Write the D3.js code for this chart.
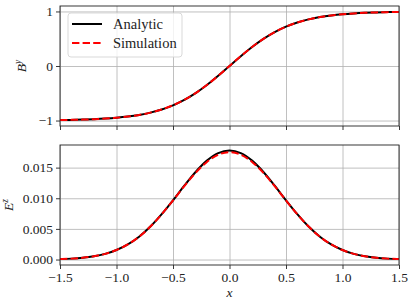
<!DOCTYPE html>
<html>
<head>
<meta charset="utf-8">
<script src="https://cdn.jsdelivr.net/npm/d3@7"></script>
<style>
  body { margin: 0; background: #fff; }
  svg { display: block; }
  svg text { font-family: "Liberation Serif", "DejaVu Serif", serif; }
</style>
</head>
<body>
<svg id="chart" width="415" height="307"></svg>
<script>
// sample positions along x
var xs = [-1.5, -1.4, -1.3, -1.2, -1.1, -1.0, -0.9, -0.8, -0.7, -0.6, -0.5, -0.4, -0.3, -0.2, -0.1,
          0.0, 0.1, 0.2, 0.3, 0.4, 0.5, 0.6, 0.7, 0.8, 0.9, 1.0, 1.1, 1.2, 1.3, 1.4, 1.5];

// B^y
var byAnalytic = [-0.9915, -0.9878, -0.9826, -0.9749, -0.9640, -0.9486, -0.9268, -0.8966, -0.8547, -0.7972, -0.7206, -0.6215, -0.4971, -0.3484, -0.1798,
                  0.0, 0.1798, 0.3484, 0.4971, 0.6215, 0.7206, 0.7972, 0.8547, 0.8966, 0.9268, 0.9486, 0.9640, 0.9749, 0.9826, 0.9878, 0.9915];
var bySim = [-0.9912, -0.9876, -0.9824, -0.9747, -0.9638, -0.9484, -0.9266, -0.8964, -0.8545, -0.7970, -0.7204, -0.6213, -0.4970, -0.3483, -0.1797,
             0.0, 0.1797, 0.3483, 0.4970, 0.6213, 0.7204, 0.7970, 0.8545, 0.8964, 0.9266, 0.9484, 0.9638, 0.9747, 0.9824, 0.9876, 0.9912];

// E^z
var ezAnalytic = [0.00007, 0.00015, 0.00029, 0.00053, 0.00093, 0.00155, 0.00247, 0.00373, 0.00538, 0.00740, 0.00967, 0.01205, 0.01429, 0.01614, 0.01737,
                  0.01780, 0.01737, 0.01614, 0.01429, 0.01205, 0.00967, 0.00740, 0.00538, 0.00373, 0.00247, 0.00155, 0.00093, 0.00053, 0.00029, 0.00015, 0.00007];
var ezSim = [0.00007, 0.00015, 0.00029, 0.00053, 0.00093, 0.00155, 0.00247, 0.00373, 0.00538, 0.00740, 0.00965, 0.01198, 0.01415, 0.01592, 0.01710,
             0.01752, 0.01710, 0.01592, 0.01415, 0.01198, 0.00965, 0.00740, 0.00538, 0.00373, 0.00247, 0.00155, 0.00093, 0.00053, 0.00029, 0.00015, 0.00007];

var xTicks = [-1.5, -1.0, -0.5, 0.0, 0.5, 1.0, 1.5];
var byTicks = [-1, 0, 1];
var ezTicks = [0.000, 0.005, 0.010, 0.015];
var legendNames = ["Analytic", "Simulation"];

var svg = d3.select("#chart");
var left = 60, right = 399;
var fontSize = 13.5;

var x = d3.scaleLinear().domain([-1.5, 1.5]).range([left, right]);

function panel(top, bottom, yDomain, yTicks, yFmt, series, labelX, labelMain, labelSup) {
  var y = d3.scaleLinear().domain(yDomain).range([bottom, top]);
  var g = svg.append("g");

  // grid
  g.append("g").attr("transform", "translate(0," + bottom + ")")
    .call(d3.axisBottom(x).tickValues(xTicks).tickSize(-(bottom - top)).tickFormat(""))
    .call(function(s) { s.select(".domain").remove(); s.selectAll("line").attr("stroke", "#b0b0b0").attr("stroke-width", 0.8); });
  g.append("g").attr("transform", "translate(" + left + ",0)")
    .call(d3.axisLeft(y).tickValues(yTicks).tickSize(-(right - left)).tickFormat(""))
    .call(function(s) { s.select(".domain").remove(); s.selectAll("line").attr("stroke", "#b0b0b0").attr("stroke-width", 0.8); });

  // curves
  var line = d3.line().x(function(d) { return x(d[0]); }).y(function(d) { return y(d[1]); }).curve(d3.curveMonotoneX);
  g.append("path").datum(d3.zip(xs, series[0])).attr("d", line)
    .attr("fill", "none").attr("stroke", "#000").attr("stroke-width", 2);
  g.append("path").datum(d3.zip(xs, series[1])).attr("d", line)
    .attr("fill", "none").attr("stroke", "#ff0000").attr("stroke-width", 2).attr("stroke-dasharray", "7.4,3.2");

  // frame
  g.append("rect").attr("x", left).attr("y", top).attr("width", right - left).attr("height", bottom - top)
    .attr("fill", "none").attr("stroke", "#222").attr("stroke-width", 0.9);

  // axes
  var ax = g.append("g").attr("transform", "translate(" + left + ",0)")
    .call(d3.axisLeft(y).tickValues(yTicks).tickSize(4).tickPadding(3).tickFormat(yFmt));
  ax.attr("font-family", null).attr("font-size", null);
  ax.select(".domain").remove();
  ax.selectAll("line").attr("stroke", "#222").attr("stroke-width", 0.9);
  ax.selectAll("text").attr("font-size", fontSize).attr("fill", "#222");

  var bx = g.append("g").attr("transform", "translate(0," + bottom + ")")
    .call(d3.axisBottom(x).tickValues(xTicks).tickSize(4).tickPadding(3).tickFormat(series[2] ? d3.format(".1f") : ""));
  bx.attr("font-family", null).attr("font-size", null);
  bx.select(".domain").remove();
  bx.selectAll("line").attr("stroke", "#222").attr("stroke-width", 0.9);
  bx.selectAll("text").attr("font-size", fontSize).attr("fill", "#222");

  // y label
  var cy = (top + bottom) / 2;
  var t = g.append("text").attr("transform", "translate(" + labelX + "," + cy + ") rotate(-90)")
    .attr("text-anchor", "middle").attr("font-size", fontSize).attr("font-style", "italic").attr("fill", "#222");
  t.append("tspan").text(labelMain);
  t.append("tspan").attr("font-size", 9.5).attr("dy", -5).text(labelSup);
  return y;
}

panel(6, 126, [-1.1, 1.1], byTicks, d3.format("d"), [byAnalytic, bySim, false], 26, "B", "y");
panel(145, 265, [-0.00089, 0.01869], ezTicks, d3.format(".3f"), [ezAnalytic, ezSim, true], 13, "E", "z");

// x label
svg.append("text").attr("x", x(0)).attr("y", 297).attr("text-anchor", "middle")
  .attr("font-size", fontSize).attr("font-style", "italic").attr("fill", "#222").text("x");

// legend
var lg = svg.append("g");
lg.append("rect").attr("x", 68).attr("y", 13).attr("width", 114).attr("height", 44).attr("rx", 3)
  .attr("fill", "#fff").attr("fill-opacity", 0.8).attr("stroke", "#d5d5d5").attr("stroke-width", 0.9);
legendNames.forEach(function(name, i) {
  var ly = 24 + i * 19;
  lg.append("line").attr("x1", 72).attr("x2", 102).attr("y1", ly).attr("y2", ly)
    .attr("stroke", i === 0 ? "#000" : "#ff0000").attr("stroke-width", 2)
    .attr("stroke-dasharray", i === 0 ? null : "7.4,3.2");
  lg.append("text").attr("x", 113).attr("y", ly + 5).attr("font-size", 14.5).attr("fill", "#222").text(name);
});
</script>
</body>
</html>
